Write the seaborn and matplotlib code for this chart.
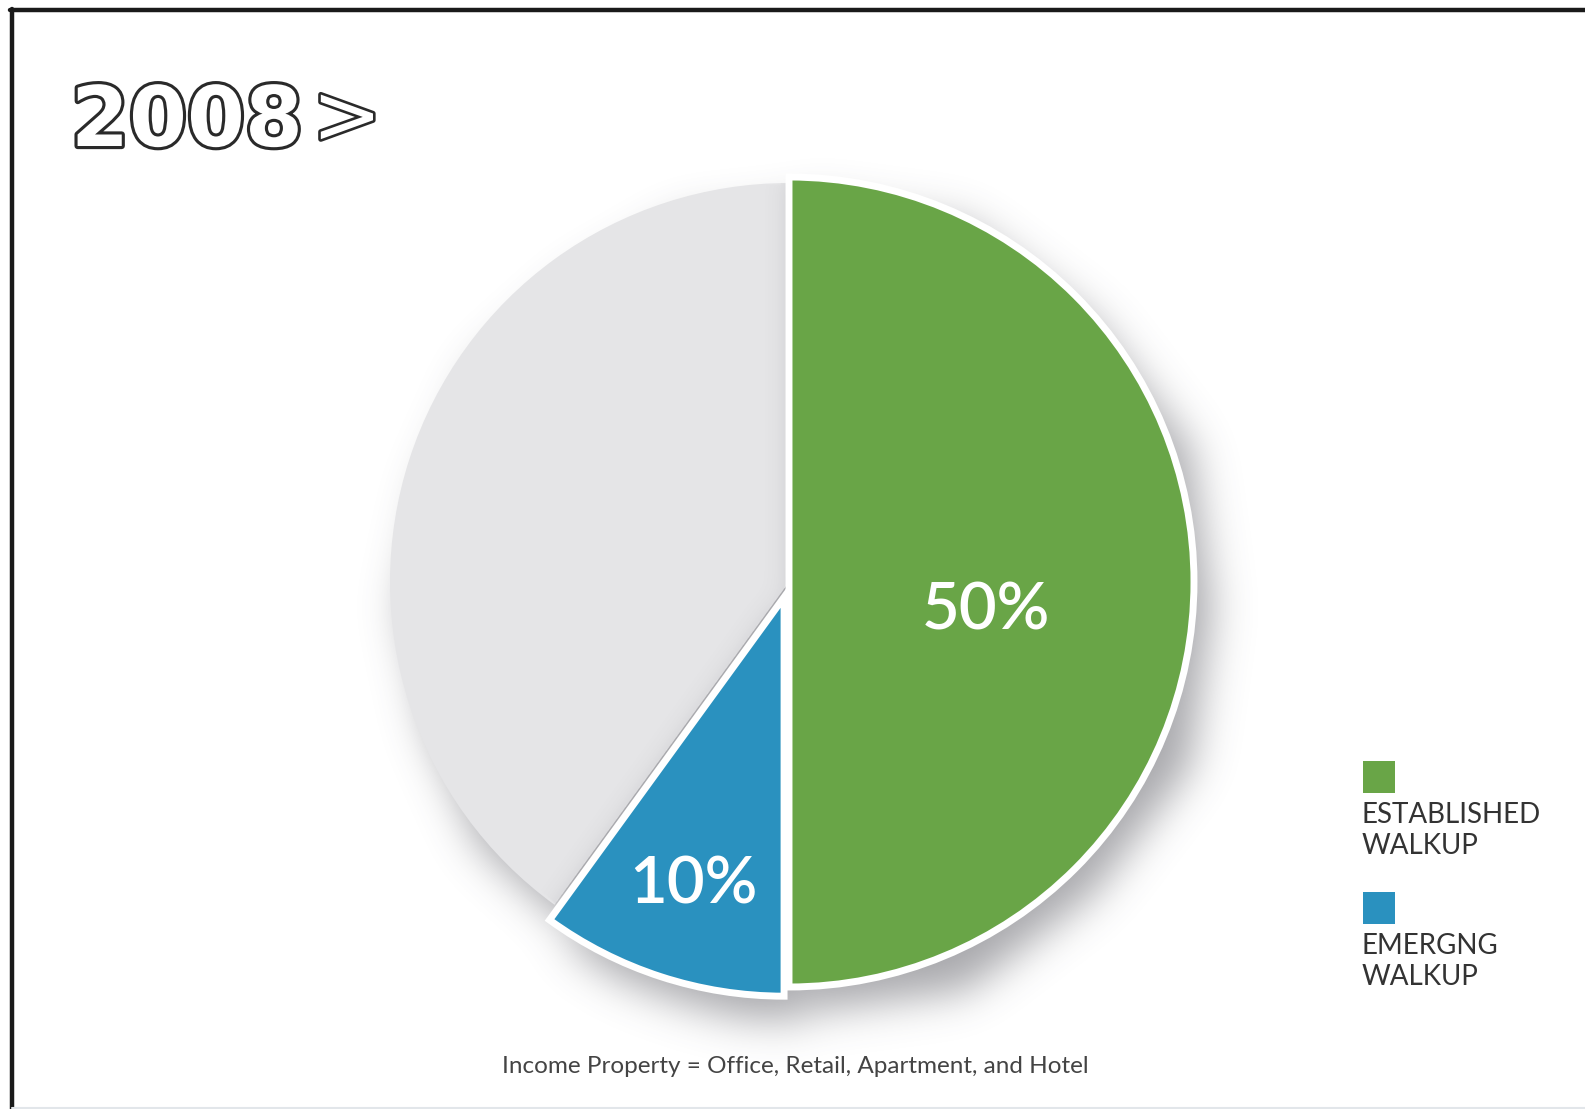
import numpy as np
import matplotlib
matplotlib.use("Agg")
import matplotlib.pyplot as plt
import seaborn as sns
from matplotlib import patheffects
from matplotlib.lines import Line2D
from matplotlib.patches import Rectangle

# Share of income property, 2008
segments = ["Established walkup", "Emerging walkup", "Other"]
shares = [50, 10, 40]
colors = ["#69A547", "#2A91BF", "#E5E5E7"]
legend_labels = ["ESTABLISHED\nWALKUP", "EMERGNG\nWALKUP"]
title = "2008>"
note = "Income Property = Office, Retail, Apartment, and Hotel"

sns.set_theme(style="white")
plt.rcParams["font.family"] = ["Lato", "DejaVu Sans"]

W, H = 1585, 1109
fig = plt.figure(figsize=(W / 100, H / 100), dpi=100)
fig.patch.set_facecolor("white")

# Pie axes: one data unit = 399 px, pie centred at (789, 582) px from top-left
unit = 399
L = 1.5
side = 2 * L * unit
cx, cy = 789, H - 582
ax = fig.add_axes([(cx - side / 2) / W, (cy - side / 2) / H, side / W, side / H])

wedges, _ = ax.pie(
    shares, colors=colors, startangle=90, counterclock=False,
    explode=[0, 0.04, 0], radius=1.0,
    wedgeprops=dict(edgecolor="white", linewidth=5),
)
green, blue, gray = wedges
green.set_radius(1.015)
gray.set_linewidth(0)
gray.set_zorder(1)
green.set_zorder(3)
blue.set_zorder(3)
ax.set_xlim(-L, L)
ax.set_ylim(-L, L)
ax.axis("off")

# Soft shadows rendered from the wedge shapes
n = 700
g = np.linspace(-L, L, n)
X, Y = np.meshgrid(g, g)
pts = np.column_stack([X.ravel(), Y.ravel()])


def mask_of(patches, offset=(0.0, 0.0)):
    m = np.zeros(n * n, bool)
    shifted = pts - np.asarray(offset)
    for p in patches:
        m |= p.get_path().contains_points(shifted)
    return m.reshape(n, n).astype(float)


def blur(a, sigma):
    k = np.arange(-int(3 * sigma), int(3 * sigma) + 1)
    ker = np.exp(-0.5 * (k / sigma) ** 2)
    ker /= ker.sum()
    a = np.apply_along_axis(lambda r: np.convolve(r, ker, mode="same"), 0, a)
    a = np.apply_along_axis(lambda r: np.convolve(r, ker, mode="same"), 1, a)
    return a


def shade_image(alpha, rgb):
    img = np.zeros((n, n, 4))
    img[..., :3] = rgb
    img[..., 3] = np.clip(alpha, 0, 1)
    return img


outer = blur(mask_of(wedges, offset=(0.045, -0.065)), 12) * 0.5
ax.imshow(shade_image(outer, (0.32, 0.32, 0.35)), extent=(-L, L, -L, L),
          origin="lower", zorder=0.5, interpolation="bilinear")

inner = blur(mask_of([green, blue]), 7) * mask_of([gray]) * 0.22
ax.imshow(shade_image(inner, (0.35, 0.35, 0.38)), extent=(-L, L, -L, L),
          origin="lower", zorder=2, interpolation="bilinear")
ax.set_xlim(-L, L)
ax.set_ylim(-L, L)

# Percentage labels
label_pos = [(0.494, -0.12), (-0.24, -0.805)]
for v, (x, y) in zip(shares[:2], label_pos):
    ax.text(x, y, f"{v}%", ha="center", va="baseline", color="white",
            fontsize=47, fontweight="semibold", zorder=5)

# Title with outlined lettering: the year in bold, the arrow lighter
outline = [patheffects.withStroke(linewidth=4.5, foreground="#2a2a2a")]
fig.text(71 / W, 1 - 146 / H, title[:-1], fontsize=60, fontweight="bold",
         family=["DejaVu Sans"], color="white", va="baseline",
         path_effects=outline)
fig.text(312 / W, 1 - 143 / H, title[-1], fontsize=60, fontweight="normal",
         family=["DejaVu Sans"], color="white", va="baseline",
         path_effects=[patheffects.withStroke(linewidth=3.8, foreground="#2a2a2a")])

# Legend: colour square above a two-line label
legend_tops = [761, 892]
for col, lab, top in zip(colors[:2], legend_labels, legend_tops):
    fig.add_artist(Rectangle((1363 / W, 1 - (top + 32) / H), 32 / W, 32 / H,
                             transform=fig.transFigure, facecolor=col,
                             edgecolor="none"))
    fig.text(1362 / W, 1 - (top + 41) / H, lab, fontsize=20, color="#333333",
             ha="left", va="top", linespacing=1.25)

# Footnote
fig.text(795 / W, 1 - 1073 / H, note, fontsize=17.5, color="#444444",
         ha="center", va="baseline")

# Frame rules
fig.add_artist(Line2D([10 / W, 1], [1 - 10 / H, 1 - 10 / H], color="#1a1a1a",
                      lw=3.2, transform=fig.transFigure))
fig.add_artist(Line2D([12 / W, 12 / W], [0, 1 - 8.5 / H], color="#1a1a1a",
                      lw=3.2, transform=fig.transFigure))
fig.add_artist(Line2D([12 / W, 1], [1.5 / H, 1.5 / H], color="#e2e6ea",
                      lw=1.5, transform=fig.transFigure))

fig.savefig("out.png", dpi=100, facecolor="white")
